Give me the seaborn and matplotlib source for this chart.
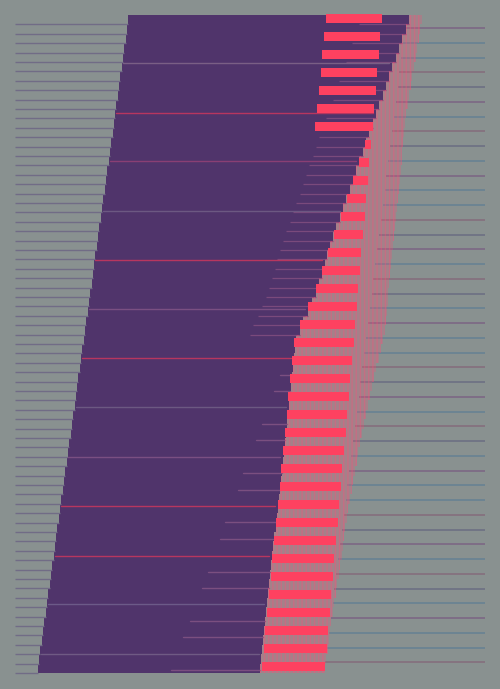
import numpy as np
import pandas as pd
import matplotlib
matplotlib.use("Agg")
import matplotlib.pyplot as plt
import seaborn as sns

# colours
bg = "#899190"
purple = "#50346b"
red = "#fe4160"

# stacked rows of the purple block (top to bottom)
row_left = [128, 127, 126, 124, 123, 122, 120, 119, 118, 116,
            115, 114, 113, 111, 110, 109, 107, 106, 105, 103,
            102, 101, 99, 98, 97, 95, 94, 93, 92, 90,
            89, 88, 86, 85, 84, 82, 81, 80, 78, 77,
            76, 75, 73, 72, 71, 69, 68, 67, 65, 64,
            63, 61, 60, 59, 57, 56, 55, 54, 52, 51,
            50, 48, 47, 46, 44, 43, 42, 40, 39, 38]
row_right = [409, 406, 402, 399, 396, 392, 389, 386, 383, 379,
             376, 373, 369, 366, 363, 359, 356, 353, 350, 346,
             343, 340, 336, 333, 330, 327, 325, 322, 319, 316,
             312, 308, 303, 300, 296, 295, 294, 293, 292, 291,
             290, 289, 288, 287, 286, 285, 284, 283, 282, 281,
             280, 279, 278, 277, 276, 274, 273, 272, 271, 270,
             269, 268, 267, 266, 265, 264, 263, 262, 261, 260]
haze_right = [422, 420, 419, 417, 416, 414, 412, 411, 409, 408,
              406, 405, 404, 403, 402, 402, 401, 400, 399, 398,
              397, 396, 395, 394, 393, 392, 391, 390, 389, 388,
              388, 387, 386, 385, 383, 381, 379, 376, 374, 372,
              370, 368, 366, 364, 362, 360, 358, 357, 355, 353,
              352, 350, 348, 347, 345, 344, 343, 342, 340, 339,
              337, 336, 334, 333, 331, 330, 329, 328, 326, 325]

# red bars (visible extent)
red_left = [326, 324, 322, 321, 319, 317, 315,
            365, 359, 353, 347, 341, 334, 328, 322, 316, 308, 300,
            294, 292, 290, 288, 287, 285, 283, 281, 280, 278, 276,
            274, 272, 271, 269, 267, 265, 264, 262]
red_right = [382, 380, 379, 377, 376, 374, 373, 371, 369, 368,
             366, 365, 363, 361, 360, 358, 357, 355, 354, 352,
             350, 349, 347, 346, 344, 342, 341, 339, 338, 336,
             334, 333, 331, 330, 328, 327, 325]

# thin lines on the right
line_start = [405, 403, 401, 399, 398, 396, 394, 392, 390, 388,
              386, 385, 383, 381, 379, 377, 375, 373, 372, 370,
              368, 366, 364, 362, 360, 359, 357, 355, 353, 351,
              349, 347, 346, 344, 342, 340, 338, 336, 334, 333,
              331, 329, 327, 325]
line_end = 485
line_colors = ["#7d6b86", "#6a8393", "#6a8393", "#85717f", "#6f7384",
               "#7d6b86", "#6a8393", "#85717f", "#6f7384", "#6a8393"]

# streaks across the purple block
stripe_y = [63, 113, 161, 211, 260, 309, 358, 407, 457, 506, 556, 604, 654]
stripe_col = ["#7a5f85", "#b8365f", "#8a3f74", "#6c5882", "#b8365f", "#7a4f82",
              "#b8365f", "#6c5882", "#7a4f82", "#b8365f", "#b8365f", "#6c5a88", "#6f5a84"]
short_y = [375, 391, 424, 440, 473, 490, 522, 539, 572, 588, 621, 637, 670]
short_x = [280, 274, 262, 256, 243, 238, 225, 220, 208, 202, 190, 183, 171]

top, row_h = 15, 9.4
n_rows = len(row_left)
df = pd.DataFrame({"y": top + row_h * (np.arange(n_rows) + 0.5),
                   "left": row_left, "right": row_right, "haze": haze_right})

sns.set_theme(style="white")
fig = plt.figure(figsize=(5, 6.89), dpi=100)
fig.patch.set_facecolor(bg)
ax = fig.add_axes([0, 0, 1, 1])
ax.set_facecolor(bg)

# right-hand lines sit underneath everything
ly = 28 + 14.75 * np.arange(len(line_start))
for i, (y, x0) in enumerate(zip(ly, line_start)):
    ax.plot([x0, line_end], [y, y], color=line_colors[i % len(line_colors)],
            lw=1.3, solid_capstyle="butt", zorder=1)

# purple block, then the grey staircase on its left
sns.barplot(data=df, x="right", y="y", orient="h", native_scale=True,
            color=purple, saturation=1, width=1, linewidth=0, ax=ax, zorder=2)
sns.barplot(data=df, x="left", y="y", orient="h", native_scale=True,
            color=bg, saturation=1, width=1, linewidth=0, ax=ax, zorder=3)
ybot = df["y"] + row_h / 2
ax.hlines(ybot, 15, df["left"], color="#716c86", lw=1.0, zorder=4)

# row seams near the ragged right edge
ax.hlines(ybot[:34], df["right"][:34] - 50, df["right"][:34],
          color="#7a4a7c", lw=0.9, zorder=4)

# streaks inside the purple
for y, c in zip(stripe_y, stripe_col):
    i = min(int((y - top) / row_h), n_rows - 1)
    ax.plot([row_left[i] + 1, row_right[i] - 3], [y, y], color=c, lw=1.0, zorder=5)
for y, x0 in zip(short_y, short_x):
    i = min(int((y - top) / row_h), n_rows - 1)
    ax.plot([x0, row_right[i]], [y, y], color="#7b4f80", lw=1.0, zorder=5)

# pink haze to the right of the block
plt.rcParams["hatch.linewidth"] = 1.0
ax.barh(df["y"], df["haze"] - df["right"], left=df["right"], height=row_h,
        facecolor=(1.0, 0.3, 0.45, 0.24), edgecolor=(1.0, 0.3, 0.48, 0.35),
        hatch="||||", linewidth=0, zorder=6)

# red bars
ry = 18.5 + 18 * np.arange(len(red_left))
ax.barh(ry, np.array(red_right) - np.array(red_left), left=red_left,
        height=9, color=red, linewidth=0, zorder=7)

ax.set_xlim(0, 500)
ax.set_ylim(689, 0)
ax.axis("off")
fig.savefig("out.png", dpi=100, facecolor=bg)
